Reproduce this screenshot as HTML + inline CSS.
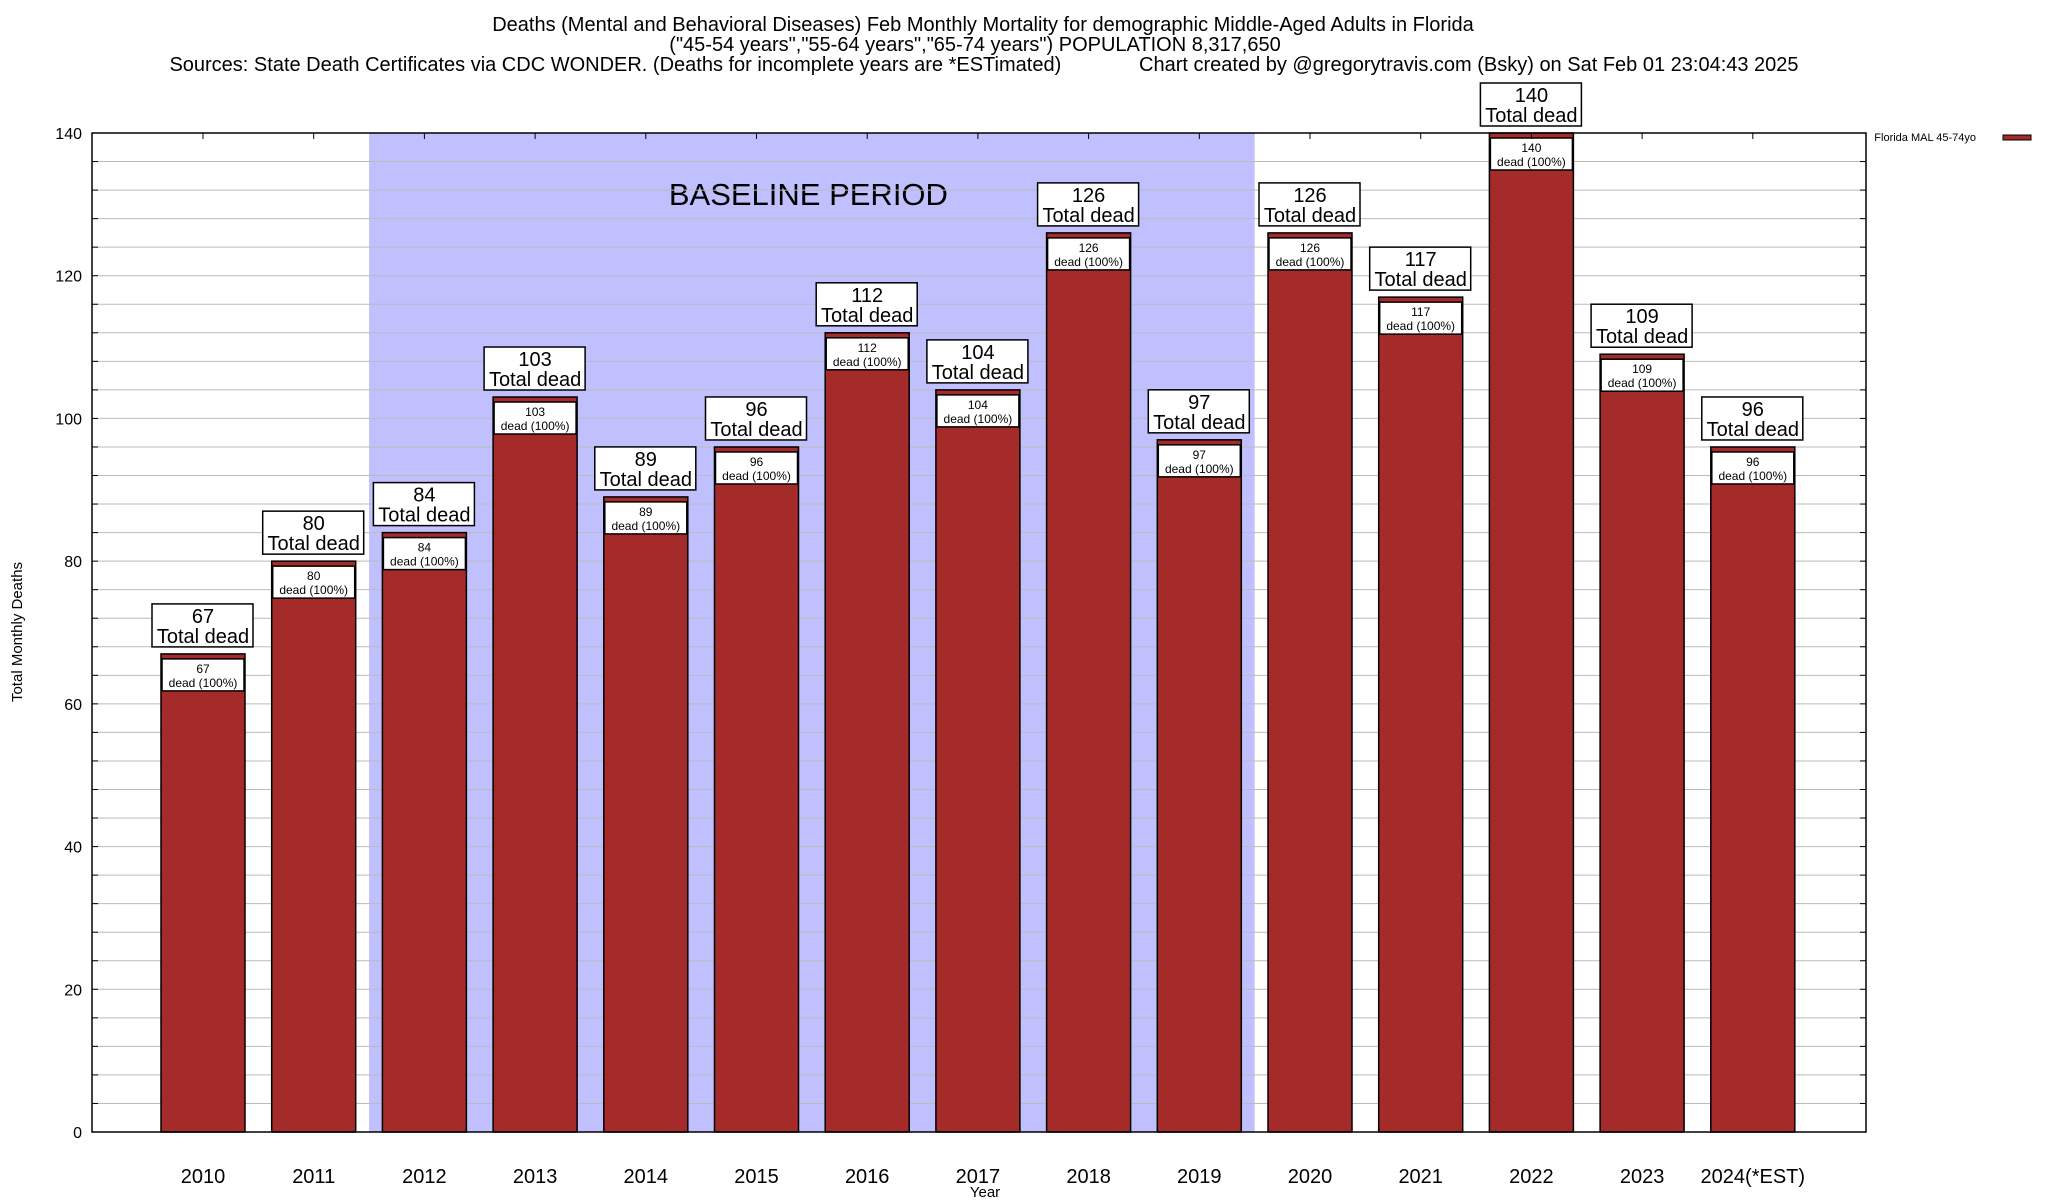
<!DOCTYPE html>
<html><head><meta charset="utf-8"><style>
html,body{margin:0;padding:0;background:#fff;}
svg{display:block;font-family:"Liberation Sans",Arial,sans-serif;}
</style></head><body>
<svg id="chart" width="2048" height="1200" viewBox="0 0 2048 1200" xmlns="http://www.w3.org/2000/svg">
<g font-size="20" fill="#000" text-anchor="middle">
<text x="983" y="31">Deaths (Mental and Behavioral Diseases) Feb Monthly Mortality for demographic Middle-Aged Adults in Florida</text>
<text x="975" y="51">("45-54 years","55-64 years","65-74 years") POPULATION 8,317,650</text>
<text x="984" y="71" xml:space="preserve">Sources: State Death Certificates via CDC WONDER. (Deaths for incomplete years are *ESTimated)              Chart created by @gregorytravis.com (Bsky) on Sat Feb 01 23:04:43 2025</text>
</g>
<g id="plot"></g>
<text x="22" y="632" transform="rotate(-90 22 632)" text-anchor="middle" font-size="15">Total Monthly Deaths</text>
<text x="985" y="1197" text-anchor="middle" font-size="15">Year</text>
<g>
<text x="1976" y="141" text-anchor="end" font-size="11">Florida MAL 45-74yo</text>
<rect x="2003" y="135" width="28" height="5" fill="#a52a2a" stroke="#000" stroke-width="1"/>
</g>
</svg>
<script>
const categories = ["2010","2011","2012","2013","2014","2015","2016","2017","2018","2019","2020","2021","2022","2023","2024(*EST)"];
const deaths = [67,80,84,103,89,96,112,104,126,97,126,117,140,109,96];
const yTicks = [0,20,40,60,80,100,120,140];
const baselineStart = 2;
const baselineEnd = 9;

const NS = "http://www.w3.org/2000/svg";
const L = 92, R = 1866, T = 133, B = 1132, YMAX = 140;
const X0 = 203, STEP = 110.7, BW = 84;
function yS(v){ return B - (v / YMAX) * (B - T); }
function xS(i){ return X0 + i * STEP; }
const plot = document.getElementById('plot');
function mk(tag, attrs, parent){
  const e = document.createElementNS(NS, tag);
  for (const k in attrs) e.setAttribute(k, attrs[k]);
  (parent || plot).appendChild(e);
  return e;
}
const shade = mk('rect', {x: xS(baselineStart - 0.5), y: T, width: xS(baselineEnd + 0.5) - xS(baselineStart - 0.5), height: B - T, fill: '#c0c0fe'});


const bt = mk('text', {x: (xS(baselineStart - 0.5) + xS(baselineEnd + 0.5)) / 2 - 143, y: 205, 'font-size': 31});
bt.textContent = 'BASELINE PERIOD';


for (let v = 4; v < YMAX; v += 4) {
  const g = mk('line', {x1: L, x2: R, y1: yS(v), y2: yS(v), stroke: '#bbb', 'stroke-width': 1});
  
  
  const t1 = mk('line', {x1: L, x2: L + 6, y1: yS(v), y2: yS(v), stroke: '#000'});
  
  
  const t2 = mk('line', {x1: R - 6, x2: R, y1: yS(v), y2: yS(v), stroke: '#000'});
  
  
}
yTicks.forEach(v => {
  const t = mk('text', {x: 82, y: yS(v) + 6, 'text-anchor': 'end', 'font-size': 16});
  t.textContent = v;
  
  
});
categories.forEach((c, i) => {
  const v = deaths[i];
  const cx = xS(i), top = yS(v);
  const bar = mk('rect', {x: cx - BW/2, y: top, width: BW, height: B - top, fill: '#a52a2a', stroke: '#000', 'stroke-width': 1.5});
  
  
  const ib = mk('rect', {x: cx - BW/2 + 1, y: top + 5, width: BW - 2, height: 32, fill: '#fff', stroke: '#000', 'stroke-width': 1.5});
  
  
  const it1 = mk('text', {x: cx, y: top + 19, 'text-anchor': 'middle', 'font-size': 12});
  it1.textContent = v;
  
  
  const it2 = mk('text', {x: cx, y: top + 33, 'text-anchor': 'middle', 'font-size': 12});
  it2.textContent = 'dead (100%)';
  
  
  const ob = mk('rect', {x: cx - 51, y: top - 50, width: 101, height: 43, fill: '#fff', stroke: '#000', 'stroke-width': 1.5});
  
  
  const ot1 = mk('text', {x: cx, y: top - 31, 'text-anchor': 'middle', 'font-size': 20});
  ot1.textContent = v;
  
  
  const ot2 = mk('text', {x: cx, y: top - 11, 'text-anchor': 'middle', 'font-size': 20});
  ot2.textContent = 'Total dead';
  
  
  const xl = mk('text', {x: cx, y: 1183, 'text-anchor': 'middle', 'font-size': 20});
  xl.textContent = c;
  
  
  const tt = mk('line', {x1: cx, x2: cx, y1: T, y2: T + 6, stroke: '#000'});
  
  
});
const frame = mk('rect', {x: L, y: T, width: R - L, height: B - T, fill: 'none', stroke: '#000', 'stroke-width': 1.5});


</script>
</body></html>
